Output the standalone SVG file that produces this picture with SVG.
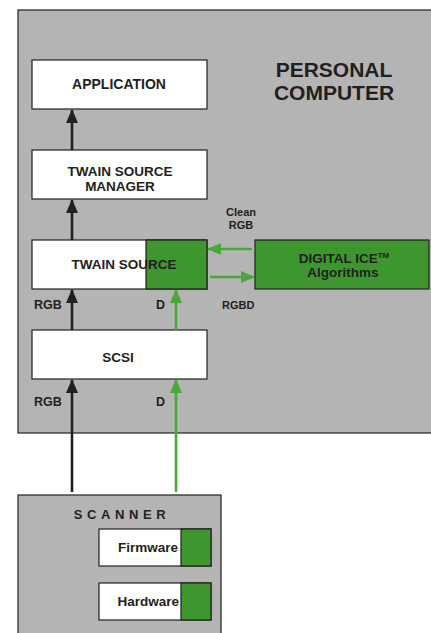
<svg xmlns="http://www.w3.org/2000/svg" width="431" height="633" viewBox="0 0 431 633">
<style>
text{font-family:"Liberation Sans",Arial,sans-serif;font-weight:bold;fill:#231f20}
.box{fill:#fff;stroke:#231f20;stroke-width:1.2}
.grn{fill:#3d972e;stroke:#231f20;stroke-width:1.2}
.sys{fill:#b4b4b4;stroke:#231f20;stroke-width:1.2}
.bl{stroke:#231f20;stroke-width:2.6;fill:none}
.gl{stroke:#4aa83a;stroke-width:2.6;fill:none}
</style>
<defs>
<marker id="ab" viewBox="0 0 14 12" refX="13" refY="6" markerWidth="14" markerHeight="12" markerUnits="userSpaceOnUse" orient="auto"><path d="M0,0 L14,6 L0,12 Z" fill="#231f20"/></marker>
<marker id="ag" viewBox="0 0 14 12" refX="13" refY="6" markerWidth="14" markerHeight="12" markerUnits="userSpaceOnUse" orient="auto"><path d="M0,0 L14,6 L0,12 Z" fill="#4aa83a"/></marker>
</defs>
<g id="pc"><rect class="sys" x="18" y="10" width="420" height="423"/>
<text x="334" y="77" font-size="21" text-anchor="middle">PERSONAL</text>
<text x="334" y="100" font-size="21" text-anchor="middle">COMPUTER</text></g>
<g id="scanner"><rect class="sys" x="18" y="495" width="203" height="145"/>
<text x="122" y="519" font-size="13" text-anchor="middle" letter-spacing="4.6">SCANNER</text></g>
<g id="application"><rect class="box" x="32" y="60" width="175" height="49"/><text x="119" y="89" font-size="14" text-anchor="middle">APPLICATION</text></g>
<g id="tsm"><rect class="box" x="32" y="150" width="175" height="49"/><text x="120" y="176" font-size="13.5" text-anchor="middle">TWAIN SOURCE</text><text x="120" y="191" font-size="13.5" text-anchor="middle">MANAGER</text></g>
<g id="twain-source"><rect class="box" x="32" y="240" width="175" height="49"/><rect class="grn" x="146" y="240" width="61" height="49"/><text x="124" y="269" font-size="13.5" text-anchor="middle">TWAIN SOURCE</text></g>
<g id="ice"><rect class="grn" x="255" y="240" width="174" height="49"/><text x="344" y="263" font-size="13.5" text-anchor="middle">DIGITAL ICE<tspan font-size="8" dy="-5">TM</tspan></text><text x="343" y="277" font-size="13.5" text-anchor="middle">Algorithms</text></g>
<g id="scsi"><rect class="box" x="32" y="330" width="175" height="49"/><text x="118" y="362" font-size="13.5" text-anchor="middle">SCSI</text></g>
<g id="firmware"><rect class="box" x="99" y="529" width="112" height="37"/><rect class="grn" x="181" y="529" width="30" height="37"/><text x="178" y="552" font-size="13.5" text-anchor="end">Firmware</text></g>
<g id="hardware"><rect class="box" x="99" y="583" width="112" height="37"/><rect class="grn" x="181" y="583" width="30" height="37"/><text x="179" y="606" font-size="13.5" text-anchor="end">Hardware</text></g>
<g id="connectors">
<line class="bl" x1="72" y1="150" x2="72" y2="110" marker-end="url(#ab)"/>
<line class="bl" x1="72" y1="240" x2="72" y2="200" marker-end="url(#ab)"/>
<line class="bl" x1="72" y1="330" x2="72" y2="290" marker-end="url(#ab)"/>
<line class="bl" x1="72" y1="492" x2="72" y2="380" marker-end="url(#ab)"/>
<line class="gl" x1="176" y1="330" x2="176" y2="290" marker-end="url(#ag)"/>
<line class="gl" x1="176" y1="492" x2="176" y2="380" marker-end="url(#ag)"/>
<line class="gl" x1="252" y1="249" x2="208" y2="249" marker-end="url(#ag)"/>
<line class="gl" x1="210" y1="277" x2="254" y2="277" marker-end="url(#ag)"/>
<text x="241" y="216" font-size="11" text-anchor="middle">Clean</text>
<text x="241" y="229" font-size="11" text-anchor="middle">RGB</text>
<text x="222" y="309" font-size="11">RGBD</text>
<text x="34" y="309" font-size="12.5">RGB</text>
<text x="156" y="309" font-size="12.5">D</text>
<text x="34" y="406" font-size="12.5">RGB</text>
<text x="156" y="406" font-size="12.5">D</text>
</g>
</svg>
